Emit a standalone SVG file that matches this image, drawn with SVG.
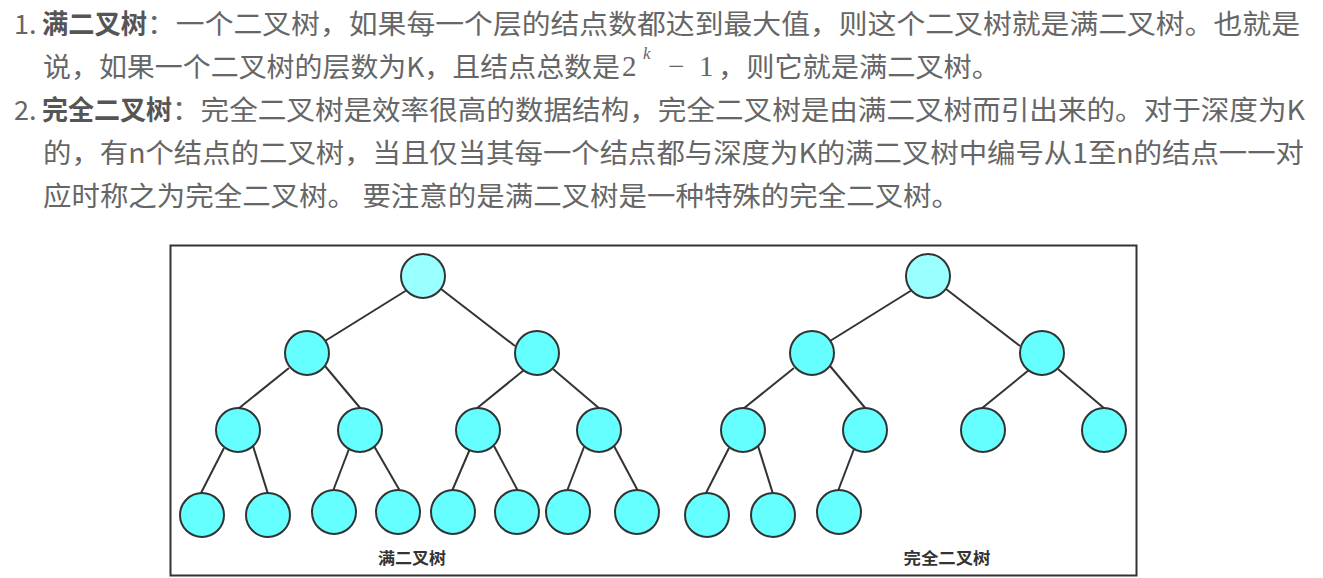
<svg xmlns="http://www.w3.org/2000/svg" width="1323" height="578" viewBox="0 0 1323 578">
<style>
.t{font-family:"Noto Sans CJK SC","Noto Sans",sans-serif;font-size:27px;fill:#666}
.b{font-family:"Noto Sans CJK SC","Noto Sans",sans-serif;font-size:27px;fill:#555;font-weight:bold}
.m{font-family:"Liberation Serif","DejaVu Serif",serif;font-size:29px;fill:#666}
.k{font-family:"Liberation Serif","DejaVu Serif",serif;font-size:17px;font-style:italic;fill:#666}
.lbl{font-family:"Noto Sans CJK SC","Noto Sans",sans-serif;font-size:16px;fill:#333;font-weight:bold;text-anchor:middle}
.n{fill:#66ffff;stroke:#333;stroke-width:2}
.r{fill:#99ffff;stroke:#333;stroke-width:2}
.e line{stroke:#333;stroke-width:2}
</style>
<rect width="1323" height="578" fill="#fff"/>
<g id="text">
<text class="t" x="14" y="34">1.</text>
<text class="b" x="42" y="34" textLength="105" lengthAdjust="spacingAndGlyphs">满二叉树</text>
<text class="t" x="147" y="34" textLength="1153" lengthAdjust="spacingAndGlyphs">：一个二叉树，如果每一个层的结点数都达到最大值，则这个二叉树就是满二叉树。也就是</text>
<text class="t" x="43" y="77" textLength="577" lengthAdjust="spacingAndGlyphs">说，如果一个二叉树的层数为K，且结点总数是</text>
<text class="m" x="622" y="76">2</text>
<text class="k" x="643" y="59">k</text>
<text class="m" x="668" y="76">−</text>
<text class="m" x="699" y="76">1</text>
<text class="t" x="718" y="77" textLength="282" lengthAdjust="spacingAndGlyphs">，则它就是满二叉树。</text>
<text class="t" x="14" y="120">2.</text>
<text class="b" x="42" y="120" textLength="130" lengthAdjust="spacingAndGlyphs">完全二叉树</text>
<text class="t" x="172" y="120" textLength="1133" lengthAdjust="spacingAndGlyphs">：完全二叉树是效率很高的数据结构，完全二叉树是由满二叉树而引出来的。对于深度为K</text>
<text class="t" x="43" y="163" textLength="1261" lengthAdjust="spacingAndGlyphs">的，有n个结点的二叉树，当且仅当其每一个结点都与深度为K的满二叉树中编号从1至n的结点一一对</text>
<text class="t" x="43" y="206" textLength="917" lengthAdjust="spacingAndGlyphs">应时称之为完全二叉树。 要注意的是满二叉树是一种特殊的完全二叉树。</text>
</g>
<rect id="frame" x="170.5" y="245.5" width="966" height="330" fill="none" stroke="#333" stroke-width="2"/>
<g id="connectors" class="e">
<line x1="407" y1="290" x2="325" y2="341"/>
<line x1="441" y1="289" x2="515" y2="346"/>
<line x1="289" y1="368" x2="238" y2="409"/>
<line x1="325" y1="366" x2="361" y2="409"/>
<line x1="524" y1="370" x2="476" y2="409"/>
<line x1="553" y1="369" x2="600" y2="409"/>
<line x1="224" y1="448" x2="201" y2="493"/>
<line x1="253" y1="446" x2="268" y2="494"/>
<line x1="349" y1="449" x2="333" y2="491"/>
<line x1="374" y1="446" x2="400" y2="491"/>
<line x1="470" y1="449" x2="452" y2="491"/>
<line x1="494" y1="446" x2="518" y2="491"/>
<line x1="584" y1="447" x2="567" y2="491"/>
<line x1="614" y1="446" x2="638" y2="491"/>
<line x1="912" y1="290" x2="830" y2="341"/>
<line x1="946" y1="289" x2="1020" y2="346"/>
<line x1="794" y1="368" x2="743" y2="409"/>
<line x1="830" y1="366" x2="866" y2="409"/>
<line x1="1029" y1="370" x2="981" y2="409"/>
<line x1="1058" y1="369" x2="1105" y2="409"/>
<line x1="729" y1="448" x2="706" y2="493"/>
<line x1="758" y1="446" x2="773" y2="494"/>
<line x1="854" y1="449" x2="838" y2="491"/>
</g>
<g id="full-R"><circle class="r" cx="423" cy="276" r="22"/></g>
<g id="full-A"><circle class="n" cx="307" cy="353" r="22"/></g>
<g id="full-B"><circle class="n" cx="537" cy="353" r="22"/></g>
<g id="full-A1"><circle class="n" cx="238" cy="430" r="22"/></g>
<g id="full-A2"><circle class="n" cx="360" cy="430" r="22"/></g>
<g id="full-B1"><circle class="n" cx="478" cy="430" r="22"/></g>
<g id="full-B2"><circle class="n" cx="599" cy="430" r="22"/></g>
<g id="full-A1a"><circle class="n" cx="202" cy="515" r="22"/></g>
<g id="full-A1b"><circle class="n" cx="268" cy="515" r="22"/></g>
<g id="full-A2a"><circle class="n" cx="334" cy="512" r="22"/></g>
<g id="full-A2b"><circle class="n" cx="398" cy="512" r="22"/></g>
<g id="full-B1a"><circle class="n" cx="453" cy="512" r="22"/></g>
<g id="full-B1b"><circle class="n" cx="517" cy="512" r="22"/></g>
<g id="full-B2a"><circle class="n" cx="568" cy="512" r="22"/></g>
<g id="full-B2b"><circle class="n" cx="637" cy="512" r="22"/></g>
<g id="comp-R"><circle class="r" cx="928" cy="276" r="22"/></g>
<g id="comp-A"><circle class="n" cx="812" cy="353" r="22"/></g>
<g id="comp-B"><circle class="n" cx="1042" cy="353" r="22"/></g>
<g id="comp-A1"><circle class="n" cx="743" cy="430" r="22"/></g>
<g id="comp-A2"><circle class="n" cx="865" cy="430" r="22"/></g>
<g id="comp-B1"><circle class="n" cx="983" cy="430" r="22"/></g>
<g id="comp-B2"><circle class="n" cx="1104" cy="430" r="22"/></g>
<g id="comp-A1a"><circle class="n" cx="707" cy="515" r="22"/></g>
<g id="comp-A1b"><circle class="n" cx="773" cy="515" r="22"/></g>
<g id="comp-A2a"><circle class="n" cx="839" cy="512" r="22"/></g>
<g id="label-full"><text class="lbl" x="412" y="564" textLength="68" lengthAdjust="spacingAndGlyphs">满二叉树</text></g>
<g id="label-comp"><text class="lbl" x="947" y="564" textLength="87" lengthAdjust="spacingAndGlyphs">完全二叉树</text></g>
</svg>
